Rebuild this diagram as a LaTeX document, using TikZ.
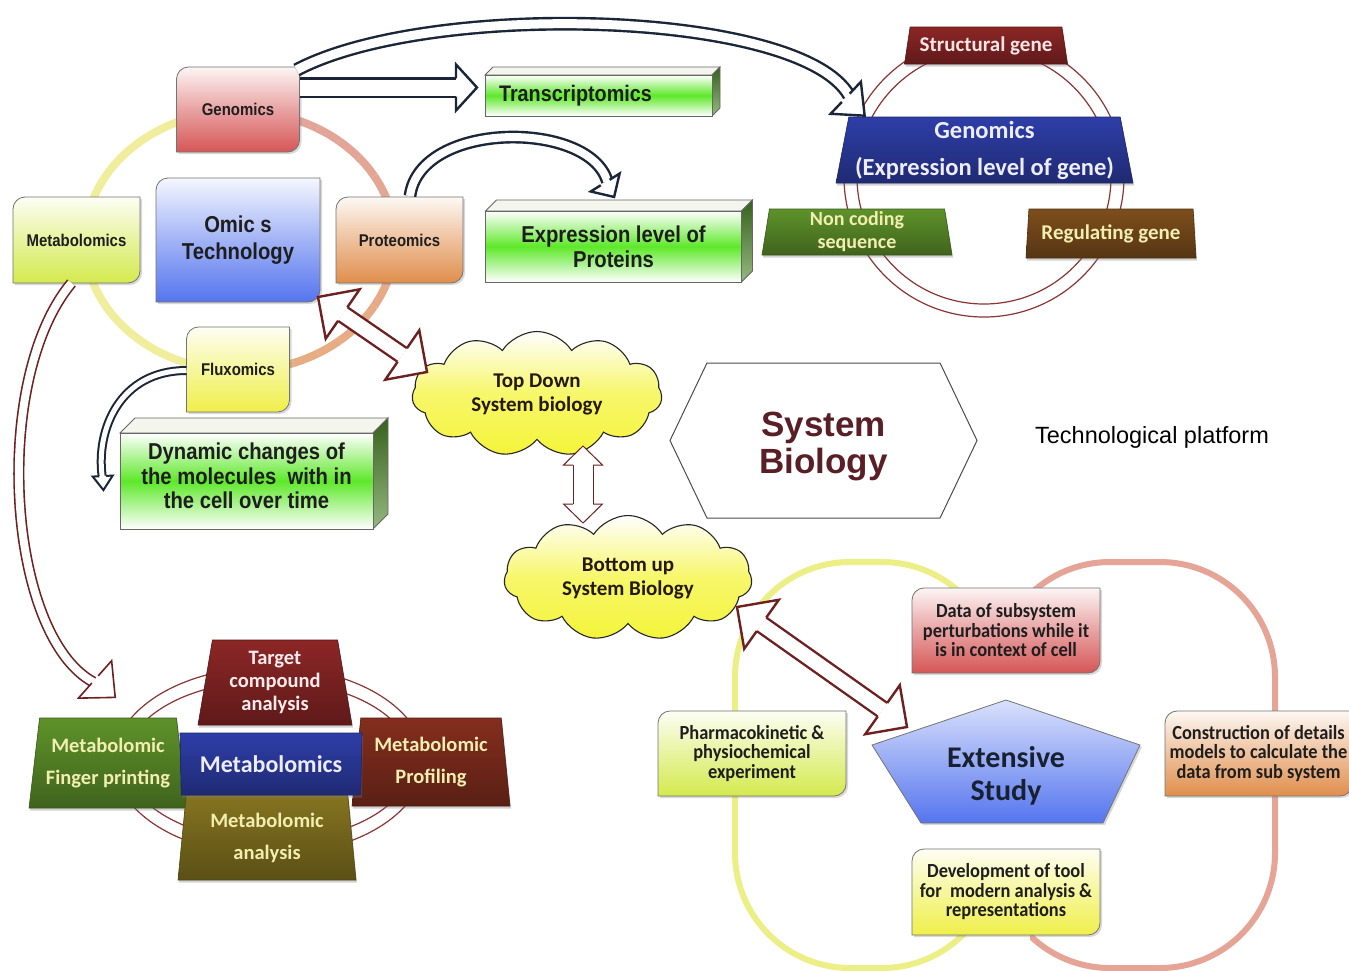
\documentclass[tikz,border=0pt]{standalone}
\usepackage{fontspec}
\setmainfont{Liberation Sans}
\newfontfamily\narrowfont[FakeStretch=0.88]{Liberation Sans}
\newfontfamily\calfont{Carlito}
\newfontfamily\calnarrow[FakeStretch=0.92]{Carlito}
\usetikzlibrary{positioning}
\usetikzlibrary{arrows.meta,arrows}
\usetikzlibrary{shapes.geometric,shapes.symbols,shadows,decorations.markings}

\definecolor{navyline}{HTML}{1B2538}
\definecolor{redline}{HTML}{6E2020}
\definecolor{ringline}{HTML}{8A3434}
\definecolor{inkdark}{HTML}{1E1E1E}
\definecolor{genred}{HTML}{D65656}
\definecolor{metgreen}{HTML}{D4EA4E}
\definecolor{omicsblue}{HTML}{5575EE}
\definecolor{protorange}{HTML}{E08E4C}
\definecolor{fluxyellow}{HTML}{EFEF4A}
\definecolor{boxgreen}{HTML}{5EE82A}
\definecolor{sidegreen}{HTML}{4E8A2A}
\definecolor{topface}{HTML}{F4F6EE}
\definecolor{cloudyellow}{HTML}{F4F43A}
\definecolor{ringyellow}{HTML}{F0EE9C}
\definecolor{ringpink}{HTML}{E2A2A0}
\definecolor{ringorange}{HTML}{E8AE7E}
\definecolor{ovalyellow}{HTML}{ECEE86}
\definecolor{ovalpink}{HTML}{E6A496}
\definecolor{trapred}{HTML}{8C2626}
\definecolor{trapblue}{HTML}{2E3EA8}
\definecolor{trapgreen}{HTML}{5E922A}
\definecolor{trapbrown}{HTML}{7E4E1C}
\definecolor{trapmaroon}{HTML}{842E1E}
\definecolor{trapolive}{HTML}{857420}
\definecolor{paletext}{HTML}{F2EEB0}
\definecolor{sysbrown}{HTML}{5A1E26}

\pgfdeclarelayer{ringlayer}
\pgfdeclarelayer{boxlayer}
\pgfsetlayers{ringlayer,boxlayer,main}

% box with round top left and bottom right corners
\newcommand\cornerbox[2]{%
  \draw[boxline,#2] (#1.south west) -- ([yshift=-12pt]#1.north west)
    arc[start angle=180,end angle=90,radius=12pt] -- (#1.north east)
    -- ([yshift=12pt]#1.south east) arc[start angle=0,end angle=-90,radius=12pt] -- cycle;}
% top and side faces of a slab
\newcommand\slabfaces[2]{%
  \draw[faceline,fill=topface] (#1.north west) -- ++(#2,-#2) -- ([shift={(#2,-#2)}]#1.north east) -- (#1.north east) -- cycle;
  \draw[faceline,top color=sidegreen!70!black,bottom color=sidegreen!60] (#1.north east) -- ([shift={(#2,-#2)}]#1.north east)
    -- ([shift={(#2,-#2)}]#1.south east) -- (#1.south east) -- cycle;}
% hollow arrow head: colour, line width, gap, half width, tip
\newcommand\hollowhead[5]{%
  \draw[#1,fill=white,line width=#2,line join=miter,shorten >=0pt,shorten <=0pt]
    (0pt,{(#3+#2)/2}) -- (0pt,#4) -- (#5,0pt) -- (0pt,-#4) -- (0pt,{-(#3+#2)/2});}

\tikzset{
  hollow/.style n args={5}{draw=#1, line width=#2, double=white, double distance=#3,
    shorten >=#5, postaction={decorate,decoration={markings,
      mark=at position -#5 with {\hollowhead{#1}{#2}{#3}{#4}{#5}}}}},
  hollowboth/.style n args={5}{draw=#1, line width=#2, double=white, double distance=#3,
    shorten >=#5, shorten <=#5, postaction={decorate,decoration={markings,
      mark=at position #5 with {\hollowhead{#1}{#2}{#3}{#4}{-#5}},
      mark=at position -#5 with {\hollowhead{#1}{#2}{#3}{#4}{#5}}}}},
}

\begin{document}
\begin{tikzpicture}[x=1pt,y=-1pt,
    boxtext/.style={font=\narrowfont\bfseries\fontsize{17}{19}\selectfont, text=inkdark, align=center, inner sep=0pt, outer sep=0pt},
    boxline/.style={draw=black!55, line width=0.8pt, drop shadow={shadow xshift=2pt, shadow yshift=-2pt, opacity=0.3}},
    slab/.style={draw=black!60, line width=0.8pt, top color=white, bottom color=white, middle color=boxgreen,
      font=\narrowfont\bfseries\fontsize{23}{25}\selectfont, text=inkdark, align=center, inner sep=0pt, outer sep=0pt},
    faceline/.style={draw=black!60, line width=0.8pt},
    trap/.style n args={4}{trapezium, trapezium stretches body, minimum width=#1, minimum height=#2, trapezium angle=#3,
      top color=#4, bottom color=#4!68!black, draw=#4!60!black, line width=0.6pt,
      drop shadow={shadow xshift=1pt, shadow yshift=-2.5pt, opacity=0.35},
      text=paletext, align=center, inner sep=0pt, outer sep=0pt, font=\calfont\bfseries\fontsize{21}{22}\selectfont},
    puff/.style={cloud, cloud puffs=11, cloud puff arc=115, aspect=2, draw=black!85, line width=1.1pt,
      top color=white, bottom color=cloudyellow, middle color=cloudyellow!75, align=center,
      font=\calfont\bfseries\fontsize{21}{24}\selectfont, text=black!80!brown, inner sep=0pt},
    softbox/.style={font=\calnarrow\bfseries\fontsize{20}{19.5}\selectfont, text=inkdark, align=center,
      inner sep=0pt, outer sep=0pt, minimum width=188pt, minimum height=85pt},
  ]
  \useasboundingbox (0,0) rectangle (1349,970);

  % omics cycle
  \node[boxtext, minimum width=164pt, minimum height=124pt, font=\narrowfont\bfseries\fontsize{23}{27}\selectfont] (omics) at (238,240) {Omic s\\Technology};
  \node[boxtext, minimum width=123pt, minimum height=85pt, above=26pt of omics] (gen) {Genomics};
  \node[boxtext, minimum width=127pt, minimum height=86pt, left=16pt of omics] (metab) {Metabolomics};
  \node[boxtext, minimum width=127pt, minimum height=86pt, right=16pt of omics] (prot) {Proteomics};
  \node[boxtext, minimum width=103pt, minimum height=85pt, below=25pt of omics] (flux) {Fluxomics};

  % green slabs
  \node[slab, minimum width=227pt, minimum height=41pt, text width=199pt, align=left,
    font=\narrowfont\bfseries\fontsize{22.5}{25}\selectfont] (trans) at (598.5,95.5) {Transcriptomics};
  \node[slab, minimum width=256pt, minimum height=71pt] (exprot) at (613.5,246.5) {Expression level of\\Proteins};
  \node[slab, minimum width=253pt, minimum height=96pt, text depth=10pt, font=\narrowfont\bfseries\fontsize{23}{24.5}\selectfont] (dyn) at (246.5,481)
    {Dynamic changes of\\the molecules\ \ with in\\the cell over time};

  % gene cycle
  \node[trap={163pt}{37pt}{73}{trapred}, text=white!90!red] (sgene) at (986,45.5) {Structural gene};
  \node[trap={297pt}{66pt}{77.6}{trapblue}, text=blue!7, font=\calfont\bfseries\fontsize{24.5}{37}\selectfont] (genx) at (984.5,150)
    {Genomics\\(Expression level of gene)};
  \node[trap={190pt}{46pt}{79.5}{trapgreen}, font=\calfont\bfseries\fontsize{20}{23}\selectfont] (nonc) at (857,232) {Non coding\\sequence};
  \node[trap={170pt}{49pt}{81}{trapbrown}] (regg) at (1111,233.5) {Regulating gene};

  % system biology
  \node[puff, minimum width=250pt, minimum height=125pt] (td) at (537,394) {Top Down\\System biology};
  \node[puff, minimum width=248pt, minimum height=125pt] (bu) at (628,578) {Bottom up\\System Biology};
  \node[signal, signal to=west and east, signal pointer angle=129, minimum width=307pt, minimum height=155pt,
    draw=black!70, line width=1pt, fill=white, font=\bfseries\fontsize{35}{37}\selectfont, text=sysbrown,
    align=center, inner sep=0pt, text height=74pt] (sysbio) at (823.5,440.5) {System\\Biology};
  \node[font=\fontsize{23.5}{26}\selectfont, inner sep=0pt] (tech) at (1152,437) {Technological platform};

  % metabolomics group
  \node[trap={154pt}{85pt}{77}{trapred}, text=white!92!red, font=\calfont\bfseries\fontsize{20.5}{23}\selectfont] (mtarget) at (275,682.5)
    {Target\\compound\\analysis};
  \node[trap={158pt}{90pt}{78}{trapgreen}, font=\calfont\bfseries\fontsize{20.5}{32}\selectfont] (mfinger) at (108,763) {Metabolomic\\Finger printing};
  \node[trap={158pt}{88pt}{80}{trapmaroon}, font=\calfont\bfseries\fontsize{20.5}{32}\selectfont] (mprof) at (431,762) {Metabolomic\\Profiling};
  \node[trap={178pt}{85pt}{80.6}{trapolive}, font=\calfont\bfseries\fontsize{20.5}{32}\selectfont] (manal) at (267,837.5) {Metabolomic\\analysis};
  \node[trap={182pt}{62pt}{94}{trapblue}, text=blue!7, font=\calfont\bfseries\fontsize{24}{26}\selectfont] (mblue) at (271,764) {Metabolomics};

  % extensive study
  \node[softbox] (data) at (1006,630.5) {Data of subsystem\\perturbations while it\\is in context of cell};
  \node[softbox] (pharma) at (752,753.5) {Pharmacokinetic \&\\physiochemical\\experiment};
  \node[softbox, minimum width=187pt] (constr) at (1258.5,753.5) {Construction of details\\models to calculate the\\data from sub system};
  \node[softbox, minimum height=86pt] (devel) at (1006,892) {Development of tool\\for\ \ modern analysis \&\\representations};
  \node[font=\calfont\bfseries\fontsize{30}{33}\selectfont, text=navyline!90!black, align=center, inner sep=0pt] (ext) at (1006,776) {Extensive\\Study};

  \begin{pgfonlayer}{ringlayer}
    \fill[white] (0,0) rectangle (1349,970);
    \draw[ringyellow, line width=8pt] (240,111) arc[start angle=90, end angle=270, x radius=155pt, y radius=130pt];
    \foreach \a [evaluate=\a as \m using int((\a+90)/1.8)] in {-90,-80,...,80}
      \draw[ringpink!\m!ringorange, line width=8pt] ([shift={(\a:155pt and 130pt)}]240,241)
        arc[start angle=\a, delta angle=10, x radius=155pt, y radius=130pt];
    \draw[ringline, line width=1.2pt] (984,177) circle[radius=140pt] (984,177) circle[radius=127pt];
    \draw[ringline, line width=1.2pt] (269,761) ellipse[x radius=155pt, y radius=94pt] (269,761) ellipse[x radius=143pt, y radius=80pt];
    \begin{scope}
      \clip (0,0) rectangle (975,970);
      \draw[ovalyellow, line width=6pt, rounded corners=115pt] (735,562) rectangle (997,968);
    \end{scope}
    \begin{scope}
      \clip (1030,0) rectangle (1349,970);
      \draw[ovalpink, line width=6pt, rounded corners=115pt] (995,562) rectangle (1275,968);
    \end{scope}
  \end{pgfonlayer}

  \begin{pgfonlayer}{boxlayer}
    \foreach \n/\c in {gen/genred, metab/metgreen, omics/omicsblue, prot/protorange, flux/fluxyellow,
        data/genred, pharma/metgreen, constr/protorange, devel/fluxyellow}
      \cornerbox{\n}{top color=\c!6, bottom color=\c, middle color=\c!55};
    \foreach \n/\d in {trans/8, exprot/11, dyn/15}
      \slabfaces{\n}{\d};
    \draw[boxline, top color=omicsblue!22, bottom color=omicsblue] (1006,700) -- (1140,745) -- (1103,823) -- (921,823) -- (872,745) -- cycle;
  \end{pgfonlayer}

  % connectors
  \draw[hollow={navyline}{2.4pt}{16pt}{23pt}{21pt}] ([yshift=22pt]gen.east) -- ([shift={(-8,-8)}]trans.west);
  \draw[hollow={navyline}{2.4pt}{9pt}{22pt}{26pt}] ([shift={(-3,3)}]gen.north east)
    .. controls +(133,-70) and +(-62,-108) .. ([shift={(-122.5,-32)}]genx.center);
  \draw[hollow={navyline}{2.4pt}{8pt}{17pt}{17pt}] ([shift={(10.5,-1)}]prot.north)
    .. controls +(10,-76) and +(-22,-78) .. ([shift={(-1.5,-13)}]exprot.north);
  \draw[hollow={navyline}{2pt}{5pt}{10pt}{14pt}] ([shift={(0,1)}]flux.west)
    .. controls +(-67,0) and +(-8,-60) .. ([shift={(-16,9)}]dyn.west);
  \draw[hollow={redline}{1.6pt}{8pt}{25pt}{27pt}] ([xshift=-5pt]metab.south)
    .. controls +(-81,97) and +(-110,-60) .. ([shift={(9,-68)}]mfinger.center);
  \draw[hollowboth={redline}{2.4pt}{14pt}{30pt}{30pt}] ([shift={(-2,-5)}]omics.south east) -- ([shift={(-110,-22)}]td.center);
  \draw[hollowboth={redline}{1pt}{19pt}{19.5pt}{19pt}] ([shift={(46,52)}]td.center) -- ([shift={(-45,-55)}]bu.center);
  \draw[hollowboth={redline}{2.4pt}{14pt}{30pt}{30pt}] ([shift={(109,29)}]bu.center) -- ([shift={(-99,-49)}]ext.center);
\end{tikzpicture}
\end{document}
